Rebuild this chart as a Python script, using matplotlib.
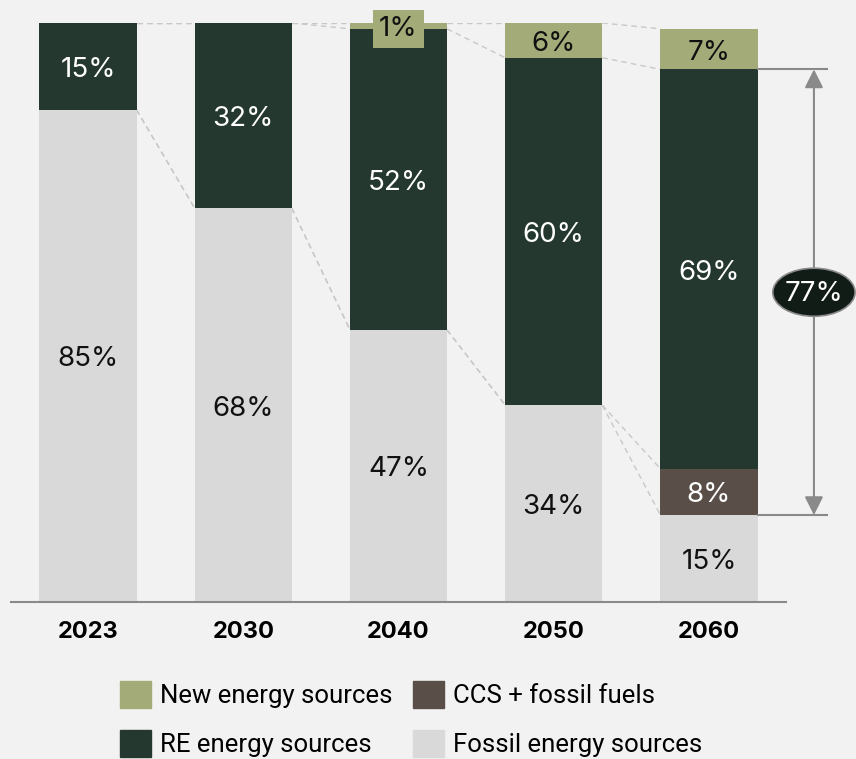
import numpy as np
import matplotlib.pyplot as plt
from matplotlib.patches import Ellipse, Patch

years = ['2023', '2030', '2040', '2050', '2060']
fossil = [85, 68, 47, 34, 15]
ccs = [0, 0, 0, 0, 8]
re_src = [15, 32, 52, 60, 69]
new_src = [0, 0, 1, 6, 7]

c_new = '#a3ab78'
c_re = '#243830'
c_ccs = '#5a4f48'
c_fossil = '#d9d9d9'
bg = '#f2f2f2'

plt.rcParams['font.family'] = ['Inter', 'DejaVu Sans']

fig = plt.figure(figsize=(8.56, 7.59), dpi=100, facecolor=bg)
ax = fig.add_axes([11 / 856, 157 / 759, 775 / 856, 579 / 759])
ax.set_facecolor(bg)

x = np.arange(len(years))
w = 0.625
fossil = np.array(fossil)
ccs = np.array(ccs)
re_src = np.array(re_src)
new_src = np.array(new_src)

b1 = fossil
b2 = b1 + ccs
b3 = b2 + re_src
b4 = b3 + new_src

ax.bar(x, fossil, w, color=c_fossil, zorder=2)
ax.bar(x, ccs, w, bottom=b1, color=c_ccs, zorder=2)
ax.bar(x, re_src, w, bottom=b2, color=c_re, zorder=2)
ax.bar(x, new_src, w, bottom=b3, color=c_new, zorder=2)

# dashed connectors between segment boundaries
for lev in [b1, b2, b3, b4]:
    for i in range(len(x) - 1):
        ax.plot([x[i] + w / 2, x[i + 1] - w / 2], [lev[i], lev[i + 1]],
                ls=(0, (4, 3)), color='#c8c8c8', lw=1, zorder=1)

fs = 20


def label(xv, yv, txt, color, **kw):
    ax.annotate(txt, (xv, yv), xytext=(0, -2.5), textcoords='offset points',
                ha='center', va='center', fontsize=fs, color=color,
                zorder=kw.pop('zorder', 3), annotation_clip=False, **kw)


for i in range(len(x)):
    label(x[i], fossil[i] / 2, f'{fossil[i]}%', '#111111')
    if ccs[i]:
        label(x[i], b1[i] + ccs[i] / 2, f'{ccs[i]}%', 'white')
    label(x[i], b2[i] + re_src[i] / 2, f'{re_src[i]}%', 'white')
    if new_src[i] >= 3:
        label(x[i], b3[i] + new_src[i] / 2, f'{new_src[i]}%', '#111111')
    elif new_src[i]:
        label(x[i], b3[i] + new_src[i] / 2, f'{new_src[i]}%', '#111111', zorder=4,
              bbox=dict(boxstyle='square,pad=0.22', fc=c_new, ec='none'))

# 77% span annotation on the last bar
top = b3[-1]
bot = b1[-1]
xa = 4.676
for yv in [top, bot]:
    ax.plot([x[-1] + w / 2, 4.76], [yv, yv], color='#8a8a8a', lw=1.5,
            clip_on=False, zorder=3)
ax.annotate('', xy=(xa, top), xytext=(xa, bot),
            arrowprops=dict(arrowstyle='<|-|>', color='#8a8a8a', lw=1.5,
                            mutation_scale=28, shrinkA=0, shrinkB=0),
            annotation_clip=False, zorder=3)
ax.add_patch(Ellipse((xa, (top + bot) / 2), 0.53, 8.3, fc='#121c17', ec='#8a8a8a',
                     lw=1.2, clip_on=False, zorder=5))
ax.annotate(f'{top - bot}%', (xa, (top + bot) / 2), xytext=(0, -1.5),
            textcoords='offset points', ha='center', va='center',
            fontsize=fs, color='white', zorder=6, annotation_clip=False)

ax.set_xlim(-0.496, 4.496)
ax.set_ylim(0, 100)
ax.set_xticks(x)
ax.set_xticklabels(years, fontsize=17, fontweight='bold')
ax.tick_params(axis='x', length=0, pad=14)
ax.set_yticks([])
for s in ['top', 'right', 'left']:
    ax.spines[s].set_visible(False)
ax.spines['bottom'].set_color('#8a8a8a')
ax.spines['bottom'].set_linewidth(1.5)

handles = [Patch(color=c_new, label='New energy sources'),
           Patch(color=c_re, label='RE energy sources'),
           Patch(color=c_ccs, label='CCS + fossil fuels'),
           Patch(color=c_fossil, label='Fossil energy sources')]
fig.legend(handles=handles, ncol=2, loc='upper left',
           bbox_to_anchor=(120 / 856, 1 - 681 / 759), frameon=False,
           prop={'family': ['Roboto', 'Inter'], 'size': 18.5},
           handlelength=1.2, handleheight=1.25, handletextpad=0.35,
           columnspacing=0.8, labelspacing=0.85, borderpad=0, borderaxespad=0)

fig.savefig('out.png', dpi=100, facecolor=bg)
